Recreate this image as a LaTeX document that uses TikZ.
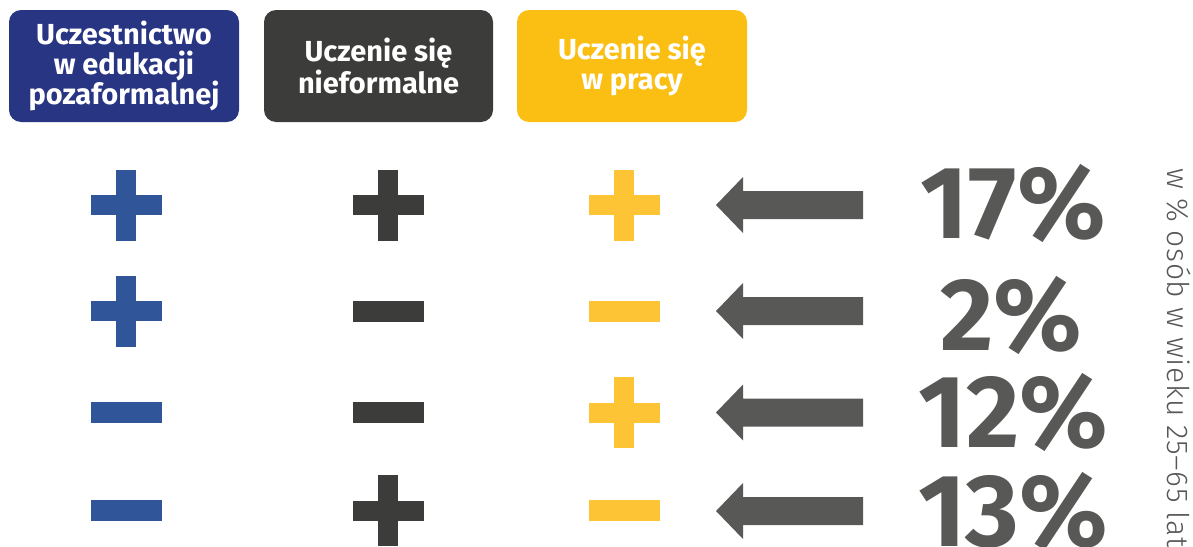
\documentclass[tikz,border=0pt]{standalone}
\usepackage{fontspec}
\setmainfont{Fira Sans}[BoldFont={Fira Sans Bold}]
\newfontfamily\lightfont{Fira Sans Light}[LetterSpace=2]
\definecolor{navyhead}{HTML}{283583}
\definecolor{darkhead}{HTML}{3C3C3B}
\definecolor{yellowhead}{HTML}{FBBF14}
\definecolor{bluesym}{HTML}{315599}
\definecolor{darksym}{HTML}{3C3C3B}
\definecolor{yellowsym}{HTML}{FDC535}
\definecolor{arrowgray}{HTML}{585857}
\definecolor{textgray}{HTML}{575756}
\tikzset{
  headbox/.style={rounded corners=12pt, minimum width=230pt, minimum height=112pt,
    text=white, align=center, font=\bfseries\fontsize{29}{30}\selectfont, inner sep=0pt},
  pct/.style={anchor=base, text=arrowgray, font=\bfseries\fontsize{103}{103}\selectfont, inner sep=0pt},
}
\newcommand{\plussym}[3]{% x, y, colour
  \fill[#3] (#1-35.5,#2-10) rectangle (#1+35.5,#2+10);
  \fill[#3] (#1-10,#2-35.5) rectangle (#1+10,#2+35.5);}
\newcommand{\minussym}[3]{%
  \fill[#3] (#1-35.5,#2-10.5) rectangle (#1+35.5,#2+10.5);}
\newcommand{\leftarrowsym}[1]{%
  \fill[arrowgray] (716,#1) -- (743,#1-28) -- (743,#1-14) -- (863,#1-14)
     -- (863,#1+14) -- (743,#1+14) -- (743,#1+28) -- cycle;}
\begin{document}
\begin{tikzpicture}[x=1pt,y=-1pt]
\useasboundingbox (0,0) rectangle (1193,546);
\node[headbox, fill=navyhead] (h1) at (124,66) {Uczestnictwo\\w edukacji\\pozaformalnej};
\node[headbox, fill=darkhead, minimum width=229pt] (h2) at (378.5,66) {Uczenie się\\nieformalne};
\node[headbox, fill=yellowhead] (h3) at (632,66) {Uczenie się\\w pracy};
% row 1
\plussym{126}{205}{bluesym}
\plussym{388}{205}{darksym}
\plussym{624}{205}{yellowsym}
\leftarrowsym{205}
\node[pct] (p1) at (1013,238) {17\%};
% row 2
\plussym{126}{311}{bluesym}
\minussym{388}{311}{darksym}
\minussym{624}{311}{yellowsym}
\leftarrowsym{311}
\node[pct] (p2) at (1011,350) {2\%};
% row 3
\minussym{126}{412.5}{bluesym}
\minussym{388}{412.5}{darksym}
\plussym{624}{412.5}{yellowsym}
\leftarrowsym{412.5}
\node[pct] (p3) at (1013,447) {12\%};
% row 4
\minussym{126}{510.5}{bluesym}
\plussym{388}{510.5}{darksym}
\minussym{624}{510.5}{yellowsym}
\leftarrowsym{511}
\node[pct] (p4) at (1013,546) {13\%};
% vertical label
\node[rotate=-90, anchor=base west, inner sep=0pt, text=textgray,
  font=\lightfont\fontsize{30}{30}\selectfont] (lbl) at (1167,168) {w \% osób w wieku 25–65 lat};
\end{tikzpicture}
\end{document}
